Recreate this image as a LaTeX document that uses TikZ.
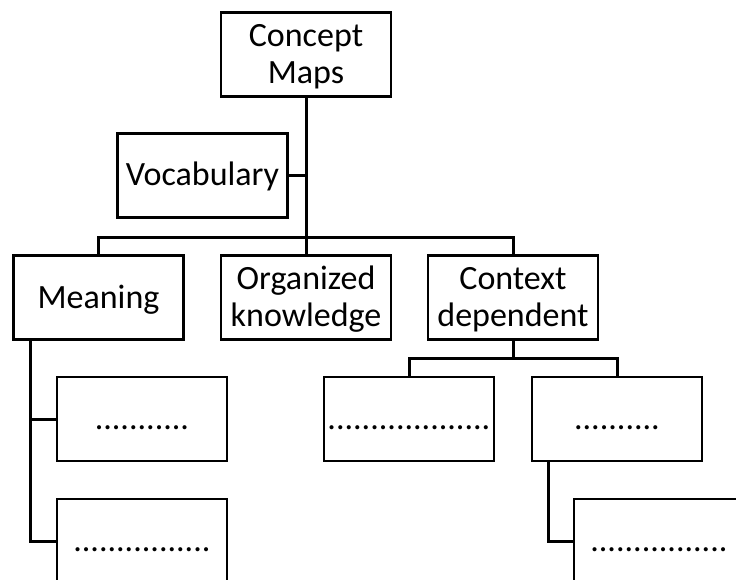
\documentclass[tikz,border=0pt]{standalone}
\usepackage{fontspec}
\setmainfont{Carlito}
\begin{document}
\begin{tikzpicture}[x=1pt,y=-1pt,
  box/.style={draw,line width=2.8pt,minimum width=170pt,minimum height=84pt,
    inner sep=0pt,align=center,text height=27pt,text depth=6pt,
    font=\fontsize{34}{37.5}\selectfont},
  twoline/.style={text height=64.5pt},
  link/.style={line width=3pt}]
  \clip (0,0) rectangle (736,580);
  \fill[white] (0,0) rectangle (736,580);

  % top level
  \node[box,twoline] (concept) at (306,54.5) {Concept\\Maps};
  \node[box] (vocab) at (202.5,175.5) {Vocabulary};

  % second level
  \node[box] (meaning) at (98.5,297.5) {Meaning};
  \node[box,twoline] (organized) at (306,297.5) {Organized\\knowledge};
  \node[box,twoline] (context) at (513,297.5) {Context\\dependent};

  % third level
  \node[box] (m1) at (142,419) {...........};
  \node[box] (m2) at (142,541) {................};
  \node[box] (c1) at (409,419) {...................};
  \node[box] (c2) at (617,419) {..........};
  \node[box] (c3) at (659,541) {................};

  % bus and trunk positions
  \coordinate (bus) at (306,237);
  \coordinate (cbus) at (513,358);
  \coordinate (mtrunk) at (30,0);
  \coordinate (ctrunk) at (548,0);

  % connectors
  \draw[link] (concept.south) -- (organized.north);
  \draw[link] (vocab.east) -- (vocab.east -| concept.south);
  \draw[link] (meaning.north) |- (bus) -| (context.north);
  \draw[link] (mtrunk |- meaning.south) |- (m2.west);
  \draw[link] (mtrunk |- m1.west) -- (m1.west);
  \draw[link] (context.south) -- (cbus);
  \draw[link] (c1.north) |- (cbus) -| (c2.north);
  \draw[link] (ctrunk |- c2.south) |- (c3.west);
\end{tikzpicture}
\end{document}
